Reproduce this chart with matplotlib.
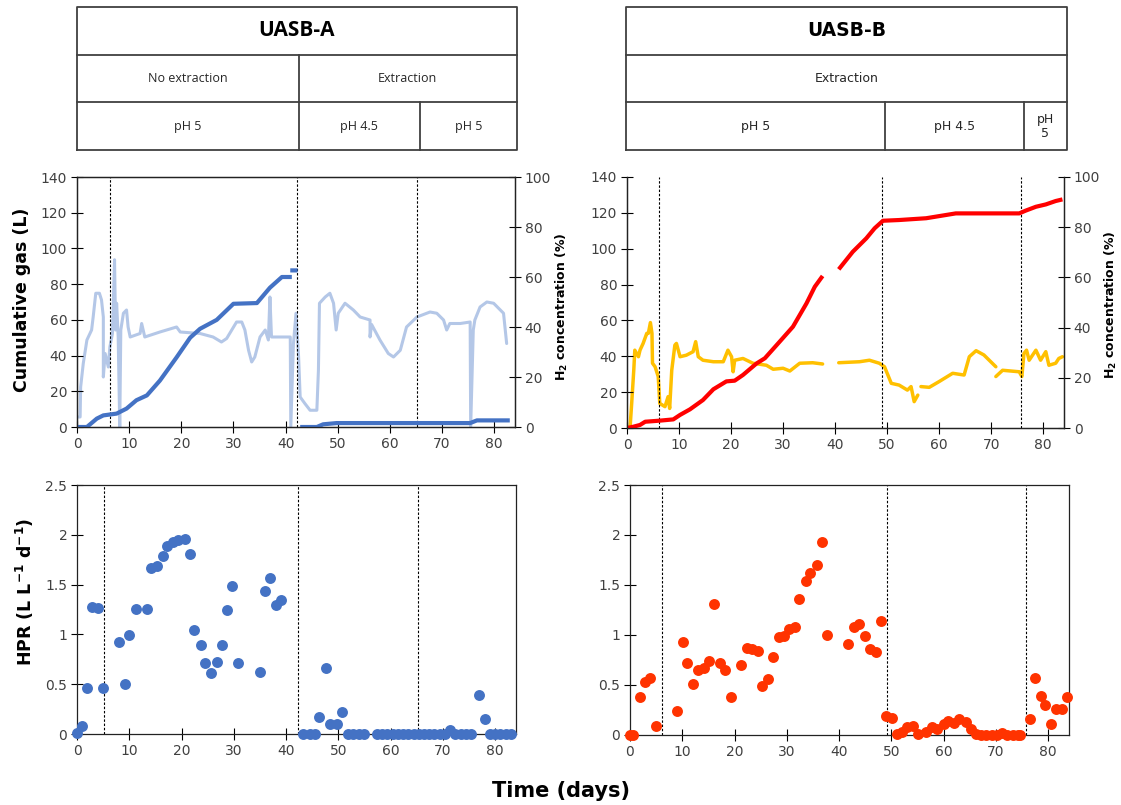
import numpy as np
import matplotlib
matplotlib.use('Agg')
import matplotlib.pyplot as plt

nan = np.nan

# ---------------- data ----------------
x_ticks = [0, 10, 20, 30, 40, 50, 60, 70, 80]

# UASB-A cumulative gas (L)
a_gas_day = [0, 1.9, 3.8, 5.05, 7.6, 9.5, 11.4, 13.4, 15.9, 19.1, 21.7, 23.6, 26.8, 30.0, 34.5,
             37.0, 39.3, 41.2, nan, 40.9, 42.3, nan, 42.8, 46.0, 47.2, 49.8, 75.4, 76.7, 83.0]
a_gas_L = [0, 0, 4.7, 6.5, 7.5, 10.3, 15, 17.7, 26, 39, 50, 55, 60, 69, 69.4,
           78, 84, 84, nan, 87.7, 87.7, nan, 0, 0, 1.5, 2.2, 2.2, 3.7, 3.7]

# UASB-A H2 concentration (%)
a_h2_day = [0, 0.6, 0.7, 1.2, 1.9, 2.8, 3.1, 3.6, 4.3, 4.7, 5.05, 5.05, 5.4, 6.0, 6.3, 6.8, 7.2,
            7.4, 7.6, 7.9, 8.2, 8.4, 8.9, 9.5, 9.8, 10.2, 12.1, 12.4, 13.0, 15.9, 19.1, 19.8, 23.6,
            26.1, 27.7, 28.7, 30.6, 31.6, 32.2, 32.9, 33.5, 34.1, 35.1, 36.1, 36.7, 37.0, 37.3,
            38.9, 40.9, 41.0, 41.5, 42.0, 42.5, 42.8, 43.7, 44.7, 46.0, 46.3, 46.5, 47.6, 48.5,
            49.2, 49.7, 50.1, 51.4, 53.0, 54.3, 56.2, 56.2, 56.5, 58.1, 59.7, 60.7, 62.0, 63.2,
            65.2, 67.7, 69.0, 70.3, 70.9, 71.5, 73.5, 75.4, 75.5, 76.0, 76.3, 77.3, 78.6, 79.9,
            81.8, 82.4]
a_h2_pct = [4, 4, 16, 25.4, 34.8, 38.8, 44, 53.5, 53.5, 50.8, 44, 20, 29.4, 24, 32, 37.4, 66.9,
            38.8, 49.5, 36, 0, 38.8, 45.5, 46.8, 40, 36, 37.4, 41.4, 36, 38, 40, 38, 37.4,
            36, 34, 35.4, 42, 42, 38.8, 30.7, 26, 28, 36, 38.8, 34.8, 52, 36,
            36, 36, 0, 33, 45.5, 28, 12, 9.4, 6.7, 6.7, 22.7, 49.5, 52, 53.5,
            49.5, 38.8, 45.5, 49.5, 46.8, 44, 42.8, 36, 41, 34.8, 29.4, 28, 30.7, 40,
            44, 46, 45.5, 42.8, 38.8, 41.4, 41.4, 42, 0, 38.8, 42.8, 48, 50, 49.5,
            45.5, 33.4]

# UASB-B cumulative gas (L)
b_gas_day = [0, 1.2, 2.5, 3.5, 6.3, 8.9, 10.2, 12.1, 14.6, 16.6, 19.1, 20.7, 22.3, 24.9, 26.5,
             29.3, 31.9, 34.5, 36.1, 37.6, nan, 40.7, 43.4, 46.0, 47.6, 49.2, 52.3, 57.5, 63.2,
             75.4, 76.6, 78.6, 80.5, 82.4, 83.7]
b_gas_L = [0, 0.7, 1.7, 3.5, 4.1, 4.8, 7.3, 10.4, 15.6, 21.6, 26, 26.4, 29.6, 36, 38.9,
           48, 56.5, 69.5, 78.8, 84.8, nan, 88.5, 98.3, 105.8, 111.4, 115.6, 116, 117, 119.7,
           119.7, 121.2, 123.4, 124.7, 126.6, 127.5]

# UASB-B H2 concentration (%)
b_h2_day = [0, 0.6, 0.9, 1.3, 1.5, 2.2, 2.5, 3.1, 3.8, 4.1, 4.5, 4.8, 4.9, 5.4, 6.0, 6.3, 7.3,
            7.9, 8.2, 8.6, 9.2, 9.5, 10.2, 11.4, 12.7, 13.2, 13.7, 14.6, 16.6, 18.5, 19.4, 20.1,
            20.4, 20.7, 22.3, 24.2, 26.8, 28.1, 30.0, 31.3, 33.2, 35.7, 37.6, nan, 40.7, 44.7,
            46.6, 48.5, 49.5, 50.8, 52.3, 53.9, 54.6, 55.2, 55.9, nan, 56.5, 58.1, 60.0, 62.6,
            64.8, 65.8, 67.1, 68.6, 70.9, nan, 70.9, 72.2, 75.4, 75.9, 76.3, 76.8, 77.3, 78.6,
            79.5, 80.5, 81.1, 82.4, 83.0, 83.7]
b_h2_pct = [0, 0.5, 9.8, 23, 31, 28.4, 31, 33.7, 37.7, 37.7, 42, 37.7, 25.8, 24.4, 20.5, 9.8, 8.5,
            12.5, 7.8, 23, 33, 33.7, 28.4, 29, 30.4, 34.4, 28.4, 27, 26.4, 26.4, 31, 28.4,
            22.4, 27, 27.7, 25.8, 25, 23.4, 23.8, 22.7, 25.8, 26, 25.5, nan, 26, 26.4,
            27, 25.8, 24.4, 17.8, 17.1, 15.1, 16.5, 10.5, 13.1, nan, 16.5, 16.2, 18.5, 21.8,
            21.1, 28.4, 30.8, 29.1, 24.4, nan, 20.5, 23, 22.4, 20.5, 29.7, 31, 27, 31,
            27, 30.4, 25, 25.8, 27.7, 28.4]

# HPR (L L-1 d-1)
hpr_a_day = [0, 0.9, 1.9, 2.8, 4.1, 4.9, 8.1, 9.2, 10.0, 11.3, 13.4, 14.2, 15.4, 16.4, 17.2, 18.4,
             19.3, 20.6, 21.6, 22.4, 23.7, 24.5, 25.7, 26.7, 27.8, 28.7, 29.7, 30.8, 35.0, 35.9,
             36.9, 38.1, 39.0,
             43.3, 44.5, 45.6, 46.4, 47.6, 48.5, 49.8, 50.7, 51.9, 52.9, 53.9, 54.9,
             57.4, 58.4, 59.4, 60.4, 61.4, 62.4, 63.4, 64.4, 65.4, 66.4, 67.4, 68.4, 69.4, 70.4,
             71.4, 72.4, 73.4, 74.4, 75.4,
             76.9, 78.0, 79.0, 80.0, 81.0, 82.0, 83.0]
hpr_a = [0.01, 0.08, 0.46, 1.28, 1.27, 0.46, 0.92, 0.50, 0.99, 1.26, 1.26, 1.67, 1.69, 1.79, 1.89,
         1.93, 1.95, 1.96, 1.81, 1.04, 0.89, 0.71, 0.61, 0.72, 0.89, 1.25, 1.49, 0.71, 0.62, 1.44,
         1.57, 1.30, 1.35,
         0, 0, 0, 0.17, 0.66, 0.10, 0.10, 0.22, 0, 0, 0, 0,
         0, 0, 0, 0, 0, 0, 0, 0, 0, 0, 0, 0, 0, 0, 0.04, 0, 0, 0, 0,
         0.39, 0.15, 0, 0, 0, 0, 0]

hpr_b_day = [0, 0.6, 1.9, 2.9, 3.8, 5.0, 9.0, 10.1, 10.9, 12.1, 13.0, 14.2, 15.1, 16.0, 17.2, 18.1,
             19.3, 21.3, 22.3, 23.4, 24.5, 25.3, 26.5, 27.4, 28.5, 29.5, 30.4, 31.6, 32.4, 33.7,
             34.5, 35.8, 36.7, 37.6, 41.7, 42.9, 43.9, 45.0, 45.9, 47.1, 48.0, 48.9, 50.1, 51.0,
             52.0, 53.0, 54.1, 55.2, 56.6, 57.7, 58.8, 60.0, 60.9, 62.0, 63.0, 64.2, 65.2, 66.2,
             67.2, 68.2, 69.2, 70.2, 71.2, 72.2, 73.2, 74.2, 74.7, 76.5, 77.4, 78.6, 79.5, 80.6,
             81.6, 82.7, 83.7]
hpr_b = [0, 0, 0.38, 0.53, 0.57, 0.09, 0.24, 0.93, 0.72, 0.51, 0.65, 0.67, 0.74, 1.31, 0.72, 0.65,
         0.38, 0.70, 0.87, 0.86, 0.84, 0.49, 0.56, 0.78, 0.98, 0.99, 1.06, 1.08, 1.36, 1.54,
         1.62, 1.70, 1.93, 1.00, 0.91, 1.08, 1.11, 0.99, 0.86, 0.83, 1.14, 0.19, 0.17, 0.01,
         0.03, 0.08, 0.09, 0.01, 0.03, 0.08, 0.06, 0.11, 0.14, 0.12, 0.16, 0.13, 0.06, 0.01,
         0, 0, 0, 0, 0.02, 0, 0, 0, 0, 0.16, 0.57, 0.39, 0.30, 0.11,
         0.26, 0.26, 0.38]

# phase change days (dashed lines)
phase_a_top = [6.3, 42.2, 65.3]
phase_a_bot = [5.2, 42.2, 65.3]
phase_b = [6.1, 49.1, 75.7]

# table content
tbl_a_title = "UASB-A"
tbl_a_row2 = ["No extraction", "Extraction"]
tbl_a_row2_edges = [0, 42.3, 84]
tbl_a_row3 = ["pH 5", "pH 4.5", "pH 5"]
tbl_a_row3_edges = [0, 42.3, 65.5, 84]
tbl_b_title = "UASB-B"
tbl_b_row2 = ["Extraction"]
tbl_b_row2_edges = [0, 84]
tbl_b_row3 = ["pH 5", "pH 4.5", "pH\n5"]
tbl_b_row3_edges = [0, 49.3, 75.8, 84]

# ---------------- style ----------------
plt.rcParams['font.family'] = ['DejaVu Sans']
C_DARK = '#4472C4'
C_LIGHT = '#B4C7E7'
C_RED = '#FF0000'
C_YEL = '#FFC000'
C_ORG = '#FF3300'
TXT = '#404040'

W, H = 1121, 805
fig = plt.figure(figsize=(W / 100, H / 100), dpi=100)


def px_axes(x0, y0, x1, y1):
    return fig.add_axes([x0 / W, 1 - y1 / H, (x1 - x0) / W, (y1 - y0) / H])


def style_ax(ax, right=False):
    ax.tick_params(direction='inout', length=8, width=0.8, labelsize=10,
                   labelcolor=TXT, pad=3, color='black')
    for s in ax.spines.values():
        s.set_linewidth(0.9)
        s.set_color('#222222')


def dashed(ax, days):
    for d in days:
        ax.axvline(d, color='black', lw=0.8, ls=(0, (2.2, 1.6)), zorder=1)


# ---- top-left
ax1 = px_axes(77, 177, 515, 427)
ax1b = ax1.twinx()
ax1b.plot(a_h2_day, a_h2_pct, color=C_LIGHT, lw=2.2, solid_capstyle='round')
ax1.plot(a_gas_day, a_gas_L, color=C_DARK, lw=3.0, solid_capstyle='butt')
ax1.set_zorder(ax1b.get_zorder() + 1)
ax1.patch.set_visible(False)
dashed(ax1, phase_a_top)
ax1.set_xlim(0, 84)
ax1.set_ylim(0, 140)
ax1.set_yticks(range(0, 141, 20))
ax1.set_xticks(x_ticks)
ax1b.set_ylim(0, 100)
ax1b.set_yticks(range(0, 101, 20))
style_ax(ax1)
style_ax(ax1b)

# ---- top-right
ax2 = px_axes(627, 177, 1064, 428)
ax2b = ax2.twinx()
ax2b.plot(b_h2_day, b_h2_pct, color=C_YEL, lw=2.5, solid_capstyle='round')
ax2.plot(b_gas_day, b_gas_L, color=C_RED, lw=3.0, solid_capstyle='butt')
ax2.set_zorder(ax2b.get_zorder() + 1)
ax2.patch.set_visible(False)
dashed(ax2, phase_b)
ax2.set_xlim(0, 84)
ax2.set_ylim(0, 140)
ax2.set_yticks(range(0, 141, 20))
ax2.set_xticks(x_ticks)
ax2b.set_ylim(0, 100)
ax2b.set_yticks(range(0, 101, 20))
style_ax(ax2)
style_ax(ax2b)
for a in (ax2, ax2b):
    a.spines['top'].set_visible(False)

# ---- bottom-left
ax3 = px_axes(77, 485, 516, 734)
ax3.scatter(hpr_a_day, hpr_a, s=62, color=C_DARK, zorder=3, clip_on=False, linewidths=0)
dashed(ax3, phase_a_bot)
ax3.set_xlim(0, 84)
ax3.set_ylim(0, 2.5)
ax3.set_yticks([0, 0.5, 1, 1.5, 2, 2.5])
ax3.set_yticklabels(['0', '0.5', '1', '1.5', '2', '2.5'])
ax3.set_xticks(x_ticks)
style_ax(ax3)

# ---- bottom-right
ax4 = px_axes(630, 485, 1069, 735)
ax4.scatter(hpr_b_day, hpr_b, s=62, color=C_ORG, zorder=3, clip_on=False, linewidths=0)
dashed(ax4, phase_b)
ax4.set_xlim(0, 84)
ax4.set_ylim(0, 2.5)
ax4.set_yticks([0, 0.5, 1, 1.5, 2, 2.5])
ax4.set_yticklabels(['0', '0.5', '1', '1.5', '2', '2.5'])
ax4.set_xticks(x_ticks)
style_ax(ax4)


# ---- tables
def draw_table(ax, title, r2, r2e, r3, r3e, fam, title_size, txt_size):
    ax.set_xlim(0, 84)
    ax.set_ylim(0, 3)
    ax.axis('off')
    lc = '#404040'
    kw = dict(color=lc, lw=1.3, clip_on=False, solid_capstyle='projecting')
    ax.plot([0, 84, 84, 0, 0], [0, 0, 3, 3, 0], **kw)
    ax.plot([0, 84], [1, 1], **kw)
    ax.plot([0, 84], [2, 2], **kw)
    for e in r2e[1:-1]:
        ax.plot([e, e], [1, 2], **kw)
    for e in r3e[1:-1]:
        ax.plot([e, e], [0, 1], **kw)
    ax.text(42, 2.5, title, ha='center', va='center', fontsize=title_size,
            fontweight='bold', family=fam, color='black')
    for i, t in enumerate(r2):
        ax.text((r2e[i] + r2e[i + 1]) / 2, 1.5, t, ha='center', va='center',
                fontsize=txt_size, family=fam, color='#262626')
    for i, t in enumerate(r3):
        ax.text((r3e[i] + r3e[i + 1]) / 2, 0.5, t, ha='center', va='center',
                fontsize=txt_size, family=fam, color='#262626', linespacing=1.1)


t1 = px_axes(77, 7, 517, 150)
draw_table(t1, tbl_a_title, tbl_a_row2, tbl_a_row2_edges, tbl_a_row3, tbl_a_row3_edges,
           ['Open Sans', 'DejaVu Sans'], 15, 9)
t2 = px_axes(626, 7, 1067, 150)
draw_table(t2, tbl_b_title, tbl_b_row2, tbl_b_row2_edges, tbl_b_row3, tbl_b_row3_edges,
           ['DejaVu Sans'], 13.5, 9)

# ---- axis labels
fig.text(22 / W, 1 - 300 / H, 'Cumulative gas (L)', rotation=90, ha='center', va='center',
         fontsize=12.5, fontweight='bold')
fig.text(562 / W, 1 - 307 / H, 'H$_\\mathbf{2}$ concentration (%)', rotation=90, ha='center',
         va='center', fontsize=9, fontweight='bold')
fig.text(1111 / W, 1 - 305 / H, 'H$_\\mathbf{2}$ concentration (%)', rotation=90, ha='center',
         va='center', fontsize=9, fontweight='bold')
fig.text(25 / W, 1 - 592 / H, 'HPR (L L$^{\\mathbf{-1}}$ d$^{\\mathbf{-1}}$)', rotation=90,
         ha='center', va='center', fontsize=12.5, fontweight='bold')
fig.text(561 / W, 1 - 791 / H, 'Time (days)', ha='center', va='center', fontsize=15,
         fontweight='bold')

fig.savefig('out.png', dpi=100)
